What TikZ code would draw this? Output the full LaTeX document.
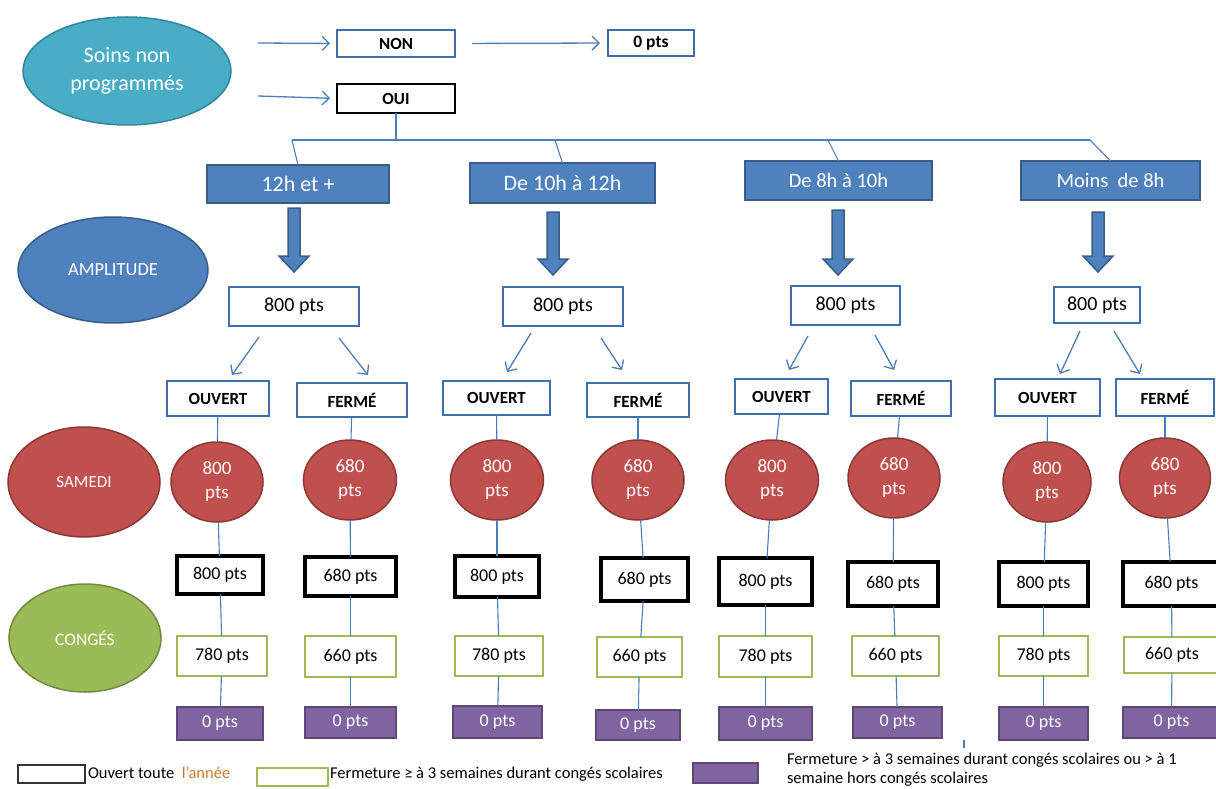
\documentclass[tikz,border=0pt]{standalone}
\usepackage{fontspec}
\setmainfont{Carlito}
\usetikzlibrary{arrows.meta,shapes.geometric,calc}
\definecolor{teal}{HTML}{4BACC6}
\definecolor{tealb}{HTML}{31859C}
\definecolor{bfill}{HTML}{4F81BD}
\definecolor{bbord}{HTML}{385D8A}
\definecolor{rfill}{HTML}{C0504D}
\definecolor{rbord}{HTML}{8C3836}
\definecolor{gfill}{HTML}{9BBB59}
\definecolor{gbord}{HTML}{71893F}
\definecolor{pfill}{HTML}{8064A2}
\definecolor{pbord}{HTML}{5C4776}
\definecolor{lineblue}{HTML}{4A7EBB}
\definecolor{boxblue}{HTML}{3E6FAB}
\definecolor{annee}{HTML}{C87A30}
\newcommand\fsz[2]{\fontsize{#1}{#2}\selectfont}
\newcommand\bx[7]{\pgfmathsetmacro\bw{#4-#2}\pgfmathsetmacro\bh{#5-#3}%
  \node[#6,minimum width=\bw pt,minimum height=\bh pt] (#1) at ({(#2+#4)/2},{(#3+#5)/2}) {#7};}
\newcommand\blk[3]{\filldraw[fill=bfill,draw=bbord,line width=1.5pt,line join=miter]
  (#1-6,#2) -- (#1+6,#2) -- (#1+6,#3-16) -- (#1+15,#3-16) -- (#1,#3) -- (#1-15,#3-16) -- (#1-6,#3-16) -- cycle;}
\tikzset{
  every node/.style={inner sep=0pt,outer sep=0pt,rectangle},
  conn/.style={draw=lineblue,line width=1.1pt},
  arr/.style={draw=lineblue,line width=1.3pt,-{Straight Barb[length=7pt,width=14pt]}},
  nbox/.style={draw=boxblue,line width=1.3pt,fill=white,font=\fsz{17}{20}\bfseries},
  obox/.style={draw=black,line width=1.3pt,fill=white,font=\fsz{17}{20}\bfseries},
  hbox/.style={draw=bbord,line width=2pt,fill=bfill,text=white,font=\fsz{20.5}{24}},
  pbox/.style={draw=boxblue,line width=2.6pt,fill=white,font=\fsz{20}{22}},
  ofbox/.style={draw=boxblue,line width=2.6pt,fill=white,font=\fsz{17}{20}\bfseries},
  kbox/.style={draw=black,line width=3.2pt,fill=white,font=\fsz{18}{22}},
  gbox/.style={draw=gfill,line width=2.6pt,fill=white,font=\fsz{18}{22}},
  ubox/.style={draw=pbord,line width=2pt,fill=pfill,text=white,font=\fsz{18}{22}},
  circ/.style={ellipse,draw=rbord,line width=1.5pt,fill=rfill,text=white,align=center,font=\fsz{19}{24}},
  lab/.style={ellipse,line width=1.5pt,text=white,align=center},
}
\begin{document}
\begin{tikzpicture}[x=1pt,y=-1pt]
\useasboundingbox (0,0) rectangle (1216,789);
% top part
\node[lab,fill=teal,draw=tealb,minimum width=208pt,minimum height=108pt,font=\fsz{22}{28}] (soins) at (127,71) {Soins non\\programmés};
\bx{non}{337}{30}{455}{57}{nbox}{NON}
\bx{zero}{608}{30}{694}{56}{nbox,font=\fsz{17.5}{20}\bfseries}{0 pts}
\bx{oui}{337}{84}{455}{113}{obox}{OUI}
\coordinate (sn) at (258,43);
\coordinate (so) at (258,96);
\draw[arr,shorten >=7pt] (sn) -- (non.west);
\draw[arr,shorten >=7pt] (so) -- (oui.west);
\draw[arr,shorten <=17pt,shorten >=8pt] (non.east) -- (zero.west);
% hour boxes
\bx{b1}{207}{165}{389}{203}{hbox,font=\fsz{22}{24}}{12h et +}
\bx{b2}{470}{163}{655}{203}{hbox,font=\fsz{22}{24}}{De 10h à 12h}
\bx{b3}{745}{161}{932}{200}{hbox}{De 8h à 10h}
\bx{b4}{1021}{161}{1200}{200}{hbox}{Moins\ \ de 8h}
\coordinate (h1) at (292,140);
\coordinate (h2) at (555,140);
\coordinate (h3) at (828,140);
\coordinate (h4) at (1090,140);
\draw[conn] (oui.south) -- (oui.south |- h1);
\draw[conn] (h1) -- (h4);
\draw[conn] (h1) -- (b1.north);
\draw[conn] (h2) -- (b2.north);
\draw[conn] (h3) -- (b3.north);
\draw[conn] (h4) -- (b4.north);
% block arrows
\blk{294}{208}{272}
\blk{553}{212}{275}
\blk{838}{210}{275}
\blk{1098}{212}{272}
% 800 pts boxes
\bx{p1}{229}{287}{359}{326}{pbox}{800 pts}
\bx{p2}{503}{287}{623}{326}{pbox}{800 pts}
\bx{p3}{791}{286}{900}{325}{pbox}{800 pts}
\bx{p4}{1054}{287}{1140}{323}{pbox}{800 pts}
% ouvert / ferme
\bx{o1}{167}{381}{269}{416}{ofbox}{OUVERT}
\bx{f1}{297}{383}{407}{417}{ofbox}{FERMÉ}
\bx{o2}{443}{381}{550}{415}{ofbox}{OUVERT}
\bx{f2}{587}{383}{689}{417}{ofbox}{FERMÉ}
\bx{o3}{735}{379}{828}{414}{ofbox}{OUVERT}
\bx{f3}{851}{381}{951}{416}{ofbox}{FERMÉ}
\bx{o4}{995}{379}{1100}{416}{ofbox}{OUVERT}
\bx{f4}{1116}{379}{1214}{416}{ofbox}{FERMÉ}
% thin arrows
\coordinate (a1) at (259,337); \coordinate (a1e) at (232,375);
\coordinate (a2) at (339,338); \coordinate (a2e) at (368,375);
\coordinate (a3) at (531,333); \coordinate (a3e) at (507,372);
\coordinate (a4) at (601,338); \coordinate (a4e) at (622,370);
\coordinate (a5) at (808,336); \coordinate (a5e) at (789,370);
\coordinate (a6) at (875,335); \coordinate (a6e) at (894,370);
\coordinate (a7) at (1080,331); \coordinate (a7e) at (1060,374);
\coordinate (a8) at (1114,331); \coordinate (a8e) at (1140,374);
\foreach \i in {1,...,8} {\draw[arr] (a\i) -- (a\i e);}
% circles
\node[circ,minimum width=92pt,minimum height=80pt] (co1) at (217,482) {800\\pts};
\node[circ,minimum width=93pt,minimum height=80pt] (cf1) at (350,480) {680\\pts};
\node[circ,minimum width=93pt,minimum height=80pt] (co2) at (497,480) {800\\pts};
\node[circ,minimum width=92pt,minimum height=80pt] (cf2) at (638,480) {680\\pts};
\node[circ,minimum width=93pt,minimum height=80pt] (co3) at (772,480) {800\\pts};
\node[circ,minimum width=92pt,minimum height=80pt] (cf3) at (894,478) {680\\pts};
\node[circ,minimum width=88pt,minimum height=80pt] (co4) at (1047,482) {800\\pts};
\node[circ,minimum width=91pt,minimum height=80pt] (cf4) at (1165,478) {680\\pts};
% black boxes
\bx{ko1}{177}{556}{263}{594}{kbox}{800 pts}
\bx{kf1}{305}{557}{396}{596}{kbox}{680 pts}
\bx{ko2}{455}{556}{539}{597}{kbox}{800 pts}
\bx{kf2}{601}{558}{688}{601}{kbox}{680 pts}
\bx{ko3}{719}{558}{812}{605}{kbox}{800 pts}
\bx{kf3}{848}{562}{938}{606}{kbox}{680 pts}
\bx{ko4}{999}{562}{1088}{606}{kbox}{800 pts}
\bx{kf4}{1123}{562}{1220}{606}{kbox}{680 pts}
% green boxes
\bx{go1}{177}{636}{267}{676}{gbox}{780 pts}
\bx{gf1}{305}{636}{396}{677}{gbox}{660 pts}
\bx{go2}{455}{636}{543}{676}{gbox}{780 pts}
\bx{gf2}{597}{637}{682}{677}{gbox}{660 pts}
\bx{go3}{719}{636}{812}{677}{gbox}{780 pts}
\bx{gf3}{852}{636}{939}{676}{gbox}{660 pts}
\bx{go4}{999}{636}{1088}{676}{gbox}{780 pts}
\bx{gf4}{1124}{637}{1220}{673}{gbox}{660 pts}
% purple boxes
\bx{uo1}{177}{707}{263}{740}{ubox}{0 pts}
\bx{uf1}{305}{707}{396}{738}{ubox}{0 pts}
\bx{uo2}{453}{706}{542}{738}{ubox}{0 pts}
\bx{uf2}{596}{710}{680}{740}{ubox}{0 pts}
\bx{uo3}{719}{707}{812}{740}{ubox}{0 pts}
\bx{uf3}{853}{707}{942}{738}{ubox}{0 pts}
\bx{uo4}{999}{707}{1088}{740}{ubox}{0 pts}
\bx{uf4}{1123}{707}{1220}{738}{ubox}{0 pts}
% vertical connectors
\foreach \c in {o1,f1,o2,f2,o3,f3,o4,f4} {
  \draw[conn] (\c) -- (c\c);
  \draw[conn] (c\c) -- (k\c);
  \draw[conn] (k\c) -- (g\c);
  \draw[conn] (g\c) -- (u\c);
}
% left labels
\node[lab,fill=bfill,draw=bbord,minimum width=190pt,minimum height=106pt,font=\fsz{18.5}{20}] (amp) at (113,270) {AMPLITUDE};
\node[lab,fill=rfill,draw=rbord,minimum width=152pt,minimum height=110pt,font=\fsz{17}{20}] (sam) at (84,482) {SAMEDI};
\node[lab,fill=gfill,draw=gbord,minimum width=152pt,minimum height=108pt,font=\fsz{17.5}{20}] (cong) at (85,638) {CONGÉS};
% legend
\bx{lk}{18}{765}{85}{783}{draw=black!80,line width=2.5pt}{}
\node[anchor=west,font=\fsz{16.5}{19}] (lkt) at (88,773) {Ouvert toute\ \ \textcolor{annee}{l'année}};
\bx{lg}{257}{768}{328}{786}{draw=gfill,line width=2pt}{}
\node[anchor=west,font=\fsz{16.5}{19}] (lgt) at (330,774) {Fermeture ≥ à 3 semaines durant congés scolaires};
\bx{lp}{693}{763}{758}{783}{draw=pbord,line width=2pt,fill=pfill}{}
\node[anchor=north west,align=left,font=\fsz{16.5}{19}] (lpt) at (787,753) {Fermeture > à 3 semaines durant congés scolaires ou > à 1\\semaine hors congés scolaires};
\coordinate (t1) at (964,740); \coordinate (t2) at (964,748);
\draw[conn] (t1) -- (t2);
\end{tikzpicture}
\end{document}
